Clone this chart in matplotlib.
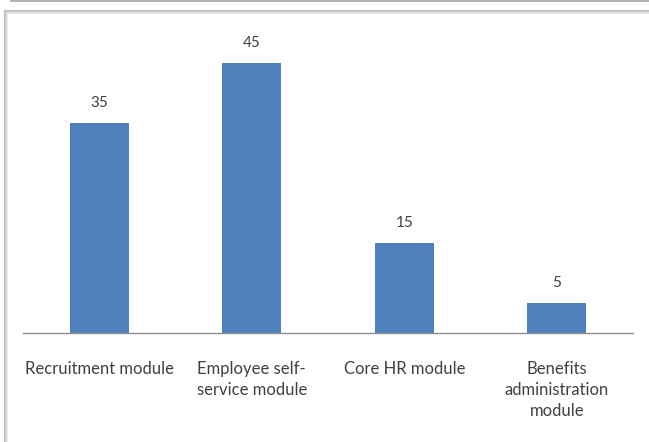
import matplotlib
matplotlib.use("Agg")
import matplotlib.pyplot as plt
from matplotlib.lines import Line2D

categories = ["Recruitment module", "Employee self-\nservice module",
              "Core HR module", "Benefits\nadministration\nmodule"]
values = [35, 45, 15, 5]

W, H = 649, 442
fig = plt.figure(figsize=(W / 100, H / 100), dpi=100)
fig.patch.set_facecolor("white")


def px(x, y):
    # pixel coords (top-left origin) -> figure fraction
    return x / W, 1 - y / H


# frame lines around the chart area
x0, y0 = px(11, 0.5)
x1, _ = px(W, 0.5)
fig.add_artist(Line2D([x0, x1], [y0, y0], color="#a6a6a6", lw=1.2))
for off, col in [(0, "#bdbdbd"), (1, "#cccccc"), (2, "#dcdcdc"), (3, "#eaeaea")]:
    a, b = px(4 + off, 10 + off)
    c, _ = px(W, 0)
    _, d = px(0, H)
    fig.add_artist(Line2D([a, c], [b, b], color=col, lw=0.8))
    fig.add_artist(Line2D([a, a], [b, d], color=col, lw=0.8))

ax = fig.add_axes([23 / W, 109 / H, 610 / W, 300 / H])
ax.set_facecolor("none")
xs = range(len(values))
bars = ax.bar(xs, values, width=0.39, color="#4f81bd")
ax.set_xlim(-0.5, len(values) - 0.5)
ax.set_ylim(0, 50)

for spine in ["top", "left", "right"]:
    ax.spines[spine].set_visible(False)
ax.spines["bottom"].set_color("#8c8c8c")
ax.spines["bottom"].set_linewidth(1.0)
ax.set_yticks([])
ax.set_xticks(list(xs))
ax.set_xticklabels(categories, fontfamily="Lato", fontsize=12,
                   color="#404040", linespacing=1.4)
ax.tick_params(axis="x", length=0, pad=20)

for rect, v in zip(bars, values):
    ax.annotate(str(v), (rect.get_x() + rect.get_width() / 2, v),
                xytext=(0, 14.4), textcoords="offset points",
                ha="center", va="center", fontfamily="Lato",
                fontsize=11, color="#404040")

fig.savefig("out.png", dpi=100)
